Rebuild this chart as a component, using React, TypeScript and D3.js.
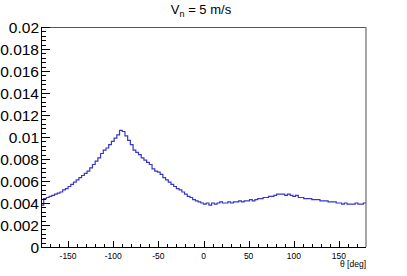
import React, { useEffect, useRef } from 'react';
import * as d3 from 'd3';

// histogram: 120 bins of 3 deg from -180 to 180
const binEdges = d3.range(-180, 181, 3);
const binValues = [
  0.0038, 0.0044, 0.0045, 0.0046, 0.0047, 0.0048, 0.0049, 0.0050, 0.0052, 0.0053,
  0.0055, 0.0057, 0.0059, 0.0061, 0.0063, 0.0065, 0.0067, 0.0069, 0.0072, 0.0075,
  0.0078, 0.0081, 0.0085, 0.0088, 0.0090, 0.0093, 0.0096, 0.0099, 0.0102, 0.0106,
  0.0105, 0.0101, 0.0097, 0.0093, 0.0088, 0.0086, 0.0084, 0.0081, 0.0079, 0.0077,
  0.0075, 0.0071, 0.0069, 0.0068, 0.0066, 0.0063, 0.0061, 0.0059, 0.0057, 0.0055,
  0.0053, 0.0052, 0.0050, 0.0048, 0.0046, 0.0045, 0.0043, 0.0042, 0.0041, 0.0040,
  0.0039, 0.0040, 0.0038, 0.0040, 0.0039, 0.0040, 0.0041, 0.0040, 0.0040, 0.0041,
  0.0040, 0.0041, 0.0041, 0.0042, 0.0041, 0.0042, 0.0042, 0.0043, 0.0042, 0.0043,
  0.0044, 0.0044, 0.0045, 0.0045, 0.0046, 0.0046, 0.0047, 0.0048, 0.0048, 0.0048,
  0.0047, 0.0048, 0.0047, 0.0046, 0.0047, 0.0045, 0.0045, 0.0044, 0.0044, 0.0044,
  0.0043, 0.0043, 0.0043, 0.0042, 0.0042, 0.0042, 0.0041, 0.0041, 0.0041, 0.0040,
  0.0040, 0.0039, 0.0040, 0.0039, 0.0039, 0.0039, 0.0040, 0.0039, 0.0039, 0.0040,
];
const xMajorTicks = [-150, -100, -50, 0, 50, 100, 150];
const yMajorTicks = [0, 0.002, 0.004, 0.006, 0.008, 0.01, 0.012, 0.014, 0.016, 0.018, 0.02];

const App = () => {
  const ref = useRef<SVGSVGElement | null>(null);

  useEffect(() => {
    const svg = d3.select(ref.current);
    svg.selectAll('*').remove();

    const left = 41, right = 366, top = 27, bottom = 247;
    const x = d3.scaleLinear().domain([-180, 180]).range([left, right]);
    const y = d3.scaleLinear().domain([0, 0.02]).range([bottom, top]);
    const font = 'Liberation Sans, Arial, sans-serif';

    svg.append('rect').attr('width', 407).attr('height', 276).attr('fill', '#fff');

    // frame
    svg.append('line').attr('x1', left).attr('x2', right).attr('y1', top + 0.5).attr('y2', top + 0.5)
      .attr('stroke', '#555').attr('stroke-width', 1);
    svg.append('line').attr('x1', right).attr('x2', right).attr('y1', top).attr('y2', bottom)
      .attr('stroke', '#888').attr('stroke-width', 1.5);

    // histogram step line
    const pts: [number, number][] = [];
    binValues.forEach((v, i) => {
      pts.push([binEdges[i], v]);
      pts.push([binEdges[i + 1], v]);
    });
    svg.append('path')
      .attr('d', d3.line<[number, number]>().x(d => x(d[0])).y(d => y(d[1]))(pts))
      .attr('fill', 'none')
      .attr('stroke', '#3636c8')
      .attr('stroke-width', 1.2);

    // x axis
    svg.append('line').attr('x1', left).attr('x2', right).attr('y1', bottom + 0.5).attr('y2', bottom + 0.5)
      .attr('stroke', '#000');
    d3.range(-170, 180, 10).forEach(t => {
      const major = t % 50 === 0;
      svg.append('line')
        .attr('x1', Math.round(x(t)) + 0.5).attr('x2', Math.round(x(t)) + 0.5)
        .attr('y1', bottom).attr('y2', bottom - (major ? 6 : 3))
        .attr('stroke', '#000');
    });
    svg.append('g').selectAll('text').data(xMajorTicks).enter().append('text')
      .attr('x', d => x(d)).attr('y', 259)
      .attr('text-anchor', 'middle')
      .style('font-family', font).style('font-size', '8.5px')
      .text(d => String(d));
    svg.append('text')
      .attr('x', right).attr('y', 267).attr('text-anchor', 'end')
      .style('font-family', font).style('font-size', '8.5px')
      .text('θ [deg]');

    // y axis
    svg.append('line').attr('x1', left + 0.5).attr('x2', left + 0.5).attr('y1', top).attr('y2', bottom)
      .attr('stroke', '#000');
    d3.range(0, 51).forEach(k => {
      const v = k * 0.0004;
      const major = k % 5 === 0;
      svg.append('line')
        .attr('x1', left).attr('x2', left + (major ? 9 : 5))
        .attr('y1', Math.round(y(v)) + 0.5).attr('y2', Math.round(y(v)) + 0.5)
        .attr('stroke', '#000');
    });
    svg.append('g').selectAll('text').data(yMajorTicks).enter().append('text')
      .attr('x', 39).attr('y', d => y(d) + 5.5)
      .attr('text-anchor', 'end')
      .style('font-family', font).style('font-size', '15.5px')
      .text(d => String(+d.toFixed(3)));

    // title
    const title = svg.append('text')
      .attr('x', 201).attr('y', 14).attr('text-anchor', 'middle')
      .style('font-family', font).style('font-size', '13px');
    title.append('tspan').text('V');
    title.append('tspan').attr('dy', 3).style('font-size', '9px').text('n');
    title.append('tspan').attr('dy', -3).text(' = 5 m/s');
  }, []);

  return (
    <svg ref={ref} width={407} height={276}
      style={{ position: 'absolute', left: 0, top: 0, display: 'block' }} />
  );
};

export default App;
